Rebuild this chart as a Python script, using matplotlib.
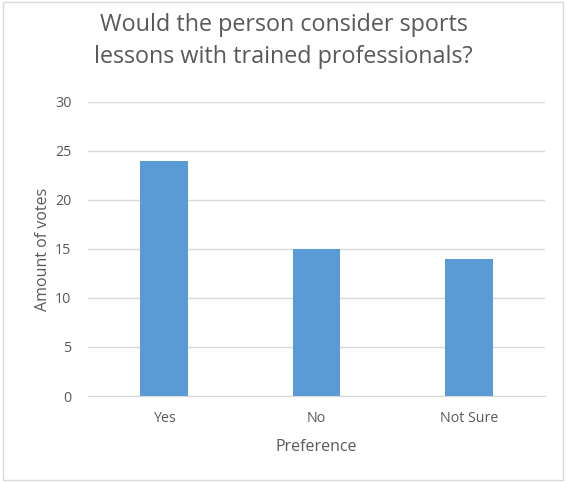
import matplotlib.pyplot as plt
from matplotlib.patches import Rectangle

# Chart data
categories = ['Yes', 'No', 'Not Sure']
votes = [24, 15, 14]
y_ticks = [0, 5, 10, 15, 20, 25, 30]

plt.rcParams['font.family'] = ['Open Sans', 'DejaVu Sans']
text_color = '#595959'

fig = plt.figure(figsize=(5.67, 4.82), dpi=100)
ax = fig.add_axes([88 / 567, 1 - 396 / 482, 457 / 567, 294 / 482])

x = range(len(categories))
ax.bar(x, votes, width=0.315, color='#5B9BD5', zorder=3)

ax.set_xlim(-0.5, len(categories) - 0.5)
ax.set_ylim(0, 30)
ax.set_yticks(y_ticks)
ax.set_xticks(list(x))
ax.set_xticklabels(categories)
ax.yaxis.grid(True, color='#D9D9D9', linewidth=1, zorder=0)
ax.tick_params(axis='both', length=0, labelsize=10.3, colors=text_color)
ax.tick_params(axis='y', pad=12)
ax.tick_params(axis='x', pad=11)
for side in ['top', 'right', 'left']:
    ax.spines[side].set_visible(False)
ax.spines['bottom'].set_color('#D9D9D9')

ax.set_xlabel('Preference', fontsize=11.5, color=text_color, labelpad=9)
ax.set_ylabel('Amount of votes', fontsize=11.5, color=text_color, labelpad=3)

fig.text(0.5, 1 - 41 / 482, 'Would the person consider sports\nlessons with trained professionals?',
         ha='center', va='center', fontsize=16.8, color=text_color, linespacing=1.45)

# Light border around the whole chart
fig.patches.append(Rectangle((3 / 567, 2 / 482), 560 / 567, 478 / 482, transform=fig.transFigure,
                             fill=False, edgecolor='#D9D9D9', linewidth=1))

fig.savefig('out.png', dpi=100)
